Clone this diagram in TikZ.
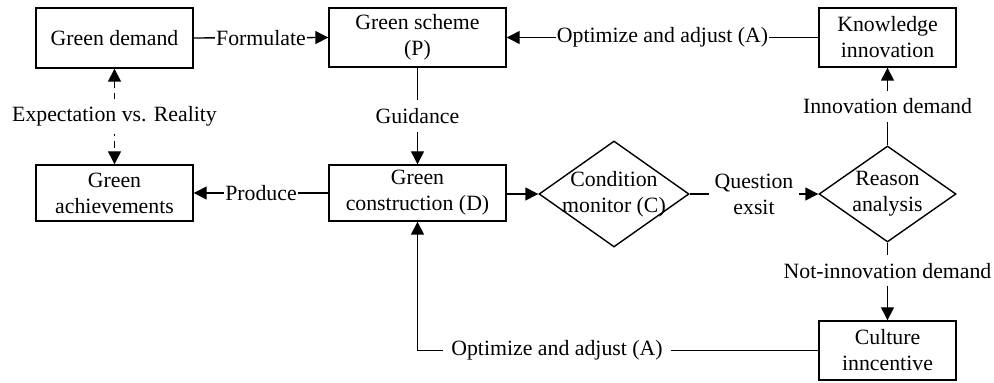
\documentclass[tikz,border=0pt]{standalone}
\usepackage{fontspec}
\setmainfont{Liberation Serif}
\usetikzlibrary{arrows.meta,shapes.geometric}
\begin{document}
\begin{tikzpicture}[x=0.5pt,y=-0.5pt,
  font=\fontsize{10.9}{13}\selectfont,
  line width=0.7pt,
  box/.style={draw,rectangle,align=center,inner sep=0pt},
  dia/.style={draw,diamond,inner sep=0pt},
  txt/.style={align=center,inner sep=0pt},
  lbl/.style={fill=white,inner sep=0.6pt,align=center},
  arr/.style={-{Triangle[length=6.5pt,width=6.5pt]}},
  darr/.style={{Triangle[length=6.5pt,width=6.5pt]}-{Triangle[length=6.5pt,width=6.5pt]},dash pattern=on 3.5pt off 2.5pt}]
\useasboundingbox (0,0) rectangle (994,383);

% process boxes
\node[box,minimum width=78.5pt,minimum height=30pt] (gd) at (114.5,38) {Green demand};
\node[box,minimum width=88.5pt,minimum height=29.5pt] (gs) at (417.5,37.5) {Green scheme\\(P)};
\node[box,minimum width=68.5pt,minimum height=29.5pt] (ki) at (887.5,37.5) {Knowledge\\innovation};
\node[box,minimum width=78.5pt,minimum height=28pt] (ga) at (114.5,193) {Green\\achievements};
\node[box,minimum width=88.5pt,minimum height=28pt] (gc) at (417.5,193) {Green\\construction (D)};
\node[box,minimum width=68.5pt,minimum height=29.5pt] (ci) at (887.5,350.5) {Culture\\inncentive};

% decision diamonds, text set on top
\node[dia,minimum width=75pt,minimum height=53pt] (cm) at (614,194) {};
\node[txt] (cmt) at (cm) {Condition\\monitor (C)};
\node[dia,minimum width=68.5pt,minimum height=48pt] (ra) at (887.5,194) {};
\node[txt] (rat) at (ra) {Reason\\analysis};

% connectors
\draw[arr] (gd.east) -- node[lbl]{Formulate} (gs.west);
\draw[arr] (ki.west) -- node[lbl]{Optimize and adjust (A)} (gs.east);
\draw[arr] (gs.south) -- node[lbl,inner sep=4pt]{Guidance} (gc.north);
\draw[darr] (gd.south) -- node[lbl,inner sep=4pt]{Expectation vs. Reality} (ga.north);
\draw[arr] (gc.west) -- node[lbl]{Produce} (ga.east);
\draw[arr] (gc.east |- cm.west) -- (cm.west);
\draw[arr] (cm.east) -- node[lbl,inner sep=3pt]{Question\\exsit} (ra.west);
\draw[arr] (ra.north) -- node[lbl,inner sep=4pt]{Innovation demand} (ki.south);
\draw[arr] (ra.south) -- node[lbl,pos=0.36,inner sep=4pt]{Not-innovation demand} (ci.north);
\draw[arr] (ci.west) -- node[lbl,pos=0.652,inner sep=4pt]{Optimize and adjust (A)} (gc.south |- ci.west) -- (gc.south);
\end{tikzpicture}
\end{document}
